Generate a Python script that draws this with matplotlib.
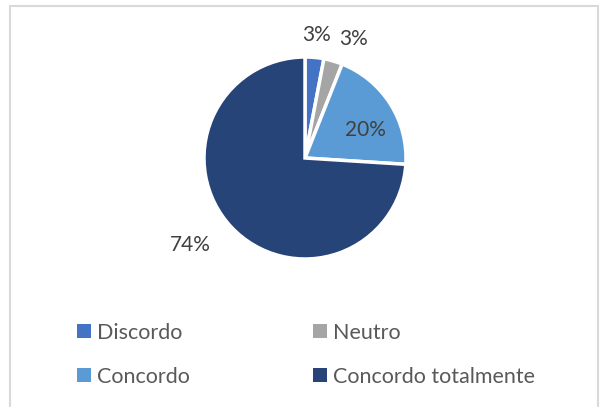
import numpy as np
import matplotlib
matplotlib.use("Agg")
import matplotlib.pyplot as plt
from matplotlib.patches import Rectangle

plt.rcParams['font.family'] = ['Lato', 'DejaVu Sans']

categories = ["Discordo", "Neutro", "Concordo", "Concordo totalmente"]
values = [3, 3, 20, 74]
colors = ["#4472C4", "#A5A5A5", "#5B9BD5", "#264478"]

W, H = 601, 407
fig = plt.figure(figsize=(W / 100, H / 100), dpi=100)

# outer chart border (bottom edge is cut off in the reference)
fig.add_artist(Rectangle((10 / W, -0.05), 588 / W, (H - 6) / H + 0.05,
                         transform=fig.transFigure, fill=False,
                         edgecolor="#D9D9D9", linewidth=1.5))

# pie axes: centre ~(305,158), radius ~101 px
cx, cy, r = 305, 158, 101
ax = fig.add_axes([(cx - r) / W, (H - cy - r) / H, 2 * r / W, 2 * r / H])
wedges, _ = ax.pie(values, colors=colors, startangle=90, counterclock=False,
                   wedgeprops=dict(edgecolor="white", linewidth=2.5))
ax.set_xlim(-1, 1)
ax.set_ylim(-1, 1)
ax.set_aspect("equal")
ax.axis("off")

# data labels (radius factor, angle nudge)
label_pos = [(1.22, 0), (1.27, -6), (0.66, -8), (1.43, -6)]
for w, v, (rf, nudge) in zip(wedges, values, label_pos):
    ang = np.deg2rad((w.theta1 + w.theta2) / 2 + nudge)
    ax.text(rf * np.cos(ang), rf * np.sin(ang), f"{v}%", ha="center",
            va="center", fontsize=15, color="#404040", clip_on=False)

# legend, two columns
col_x = [77, 313]
row_y = [331, 375]
for i, (lab, c) in enumerate(zip(categories, colors)):
    x = col_x[i % 2]
    y = row_y[i // 2]
    fig.add_artist(Rectangle((x / W, (H - y - 7) / H), 14 / W, 14 / H,
                             transform=fig.transFigure, facecolor=c,
                             edgecolor="none"))
    fig.text((x + 20) / W, (H - y - 8) / H, lab, fontsize=15.5,
             color="#595959", ha="left", va="baseline")

fig.savefig("out.png", dpi=100)
